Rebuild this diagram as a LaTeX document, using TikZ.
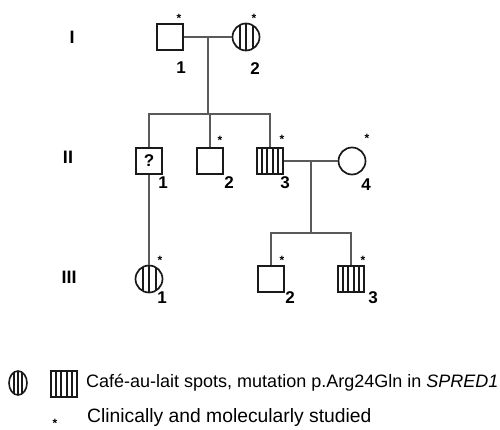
\documentclass[tikz,border=0pt]{standalone}
\usepackage{fontspec}
\setmainfont{Liberation Sans}
\usetikzlibrary{shapes.geometric}
\definecolor{ink}{HTML}{1A1A1A}
\definecolor{conn}{HTML}{5A5A5A}
\tikzset{
  sq/.style={draw=ink, line width=1.7pt, minimum size=26pt, inner sep=0pt},
  ci/.style={draw=ink, circle, line width=1.7pt, minimum size=27pt, inner sep=0pt},
  sqstripes/.style={path picture={\foreach \o in {-7.8,-2.6,2.6,7.8}
      {\draw[ink, line width=2pt] (path picture bounding box.center) ++(\o pt,-20pt) -- ++(0pt,40pt);}}},
  cistripes/.style={path picture={\foreach \o in {-6.5,0,6.5}
      {\draw[ink, line width=2pt] (path picture bounding box.center) ++(\o pt,-20pt) -- ++(0pt,40pt);}}},
  lcistripes/.style={path picture={\foreach \o in {-4.3,0,4.3}
      {\draw[ink, line width=1.8pt] (path picture bounding box.center) ++(\o pt,-20pt) -- ++(0pt,40pt);}}},
  conline/.style={draw=conn, line width=1.4pt},
  num/.style={font=\fontsize{17}{17}\selectfont\bfseries, inner sep=0pt},
  gen/.style={font=\fontsize{18}{18}\selectfont\bfseries, inner sep=0pt},
  star/.style={font=\fontsize{12}{12}\selectfont\bfseries, inner sep=0pt},
  legtext/.style={inner sep=0pt, anchor=west},
}
\begin{document}
\begin{tikzpicture}[x=1pt, y=-1pt]
\useasboundingbox (0,0) rectangle (500,430);
% generation labels
\node[gen] (gI) at (72,37) {I};
\node[gen] (gII) at (68,157) {II};
\node[gen] (gIII) at (69,277) {III};
% Generation I
\node[sq] (i1) at (170,37) {};
\node[ci, cistripes] (i2) at (246,37) {};
\coordinate (m1) at (208,37);
\coordinate (s1) at (208,114);
% Generation II
\node[sq, font=\fontsize{17}{17}\selectfont\bfseries] (ii1) at (149,161) {?};
\node[sq] (ii2) at (210,161) {};
\node[sq, sqstripes] (ii3) at (270,161) {};
\node[ci] (ii4) at (352,161) {};
\coordinate (m2) at (311,161);
\coordinate (s2) at (311,233);
% Generation III
\node[ci, cistripes] (iii1) at (149,279) {};
\node[sq] (iii2) at (271,279) {};
\node[sq, sqstripes] (iii3) at (351,279) {};
% connectors
\draw[conline] (i1.east) -- (i2.west);
\draw[conline] (m1) -- (s1);
\draw[conline] (ii1.north) |- (s1) -| (ii3.north);
\draw[conline] (s1) -| (ii2.north);
\draw[conline] (ii3.east) -- (ii4.west);
\draw[conline] (m2) -- (s2);
\draw[conline] (iii2.north) |- (s2) -| (iii3.north);
\draw[conline] (ii1.south) -- (iii1.north);
% numbers
\node[num] (n11) at (181,68) {1};
\node[num] (n12) at (255,69) {2};
\node[num] (n21) at (163,183) {1};
\node[num] (n22) at (229,183) {2};
\node[num] (n23) at (285,183) {3};
\node[num] (n24) at (366,185) {4};
\node[num] (n31) at (162,298) {1};
\node[num] (n32) at (290,298) {2};
\node[num] (n33) at (373,298) {3};
% stars
\node[star] (st11) at (179,18) {*};
\node[star] (st12) at (254,18) {*};
\node[star] (st22) at (220,140) {*};
\node[star] (st23) at (282,139) {*};
\node[star] (st24) at (367,138) {*};
\node[star] (st31) at (160,260) {*};
\node[star] (st32) at (282,260) {*};
\node[star] (st33) at (363,260) {*};
% legend
\node[draw=ink, ellipse, line width=1.6pt, minimum width=18pt, minimum height=24pt, inner sep=0pt, lcistripes] (lc) at (18,383) {};
\node[draw=ink, line width=1.6pt, minimum width=26pt, minimum height=26pt, inner sep=0pt, sqstripes] (ls) at (64,384) {};
\node[legtext, font=\fontsize{18}{18}\selectfont] (lt1) at (86,383) {Café-au-lait spots, mutation p.Arg24Gln in \textit{SPRED1}};
\node[star] (lst) at (55,423) {*};
\node[legtext, font=\fontsize{19.3}{19.3}\selectfont] (lt2) at (87,418) {Clinically and molecularly studied};
\end{tikzpicture}
\end{document}
